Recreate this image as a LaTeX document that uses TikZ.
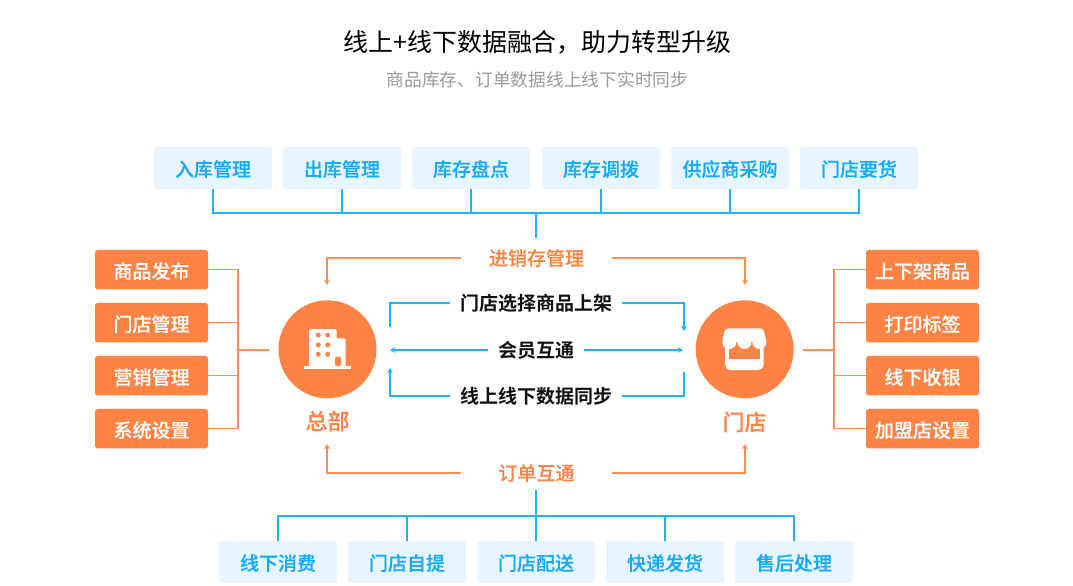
\documentclass[tikz,border=0pt]{standalone}
\usepackage{fontspec}
\setmainfont{Noto Sans CJK SC}
\newfontfamily\medfont[FakeBold=0.2]{Noto Sans CJK SC Medium}
\newfontfamily\boldfont{Noto Sans CJK SC Bold}
\usetikzlibrary{arrows.meta}
\definecolor{bluel}{HTML}{1DB3FF}
\definecolor{bluet}{HTML}{14ABFF}
\definecolor{bluebg}{HTML}{E6F5FF}
\definecolor{orng}{HTML}{FF8344}
\definecolor{orngl}{HTML}{FF8E55}
\definecolor{grayt}{HTML}{999999}
\definecolor{dark}{HTML}{111111}
\tikzset{
  bluebox/.style={fill=bluebg,rounded corners=2pt,minimum width=88.5pt,minimum height=31.5pt,inner sep=0pt,text=bluet,text height=12.5pt,text depth=0pt,font=\medfont\fontsize{14.25pt}{16pt}\selectfont},
  orngbox/.style={fill=orng,rounded corners=2pt,minimum width=84.75pt,minimum height=29.6pt,inner sep=0pt,text=white,text height=13pt,text depth=0pt,font=\medfont\fontsize{14.25pt}{16pt}\selectfont},
  blueline/.style={draw=bluel,line width=1.4pt},
  orngline/.style={draw=orngl,line width=1pt},
  tip/.style={-{Stealth[length=4pt,width=4.5pt]}},
  orlabel/.style={inner sep=0pt,minimum height=15pt,text=orng,font=\medfont\fontsize{14.25pt}{16pt}\selectfont},
  darklabel/.style={inner sep=0pt,minimum height=15pt,text=dark,font=\boldfont\fontsize{14.25pt}{16pt}\selectfont},
  hub/.style={circle,fill=orng,minimum size=73.5pt,inner sep=0pt},
  hublabel/.style={inner sep=0pt,text=orng,font=\medfont\fontsize{16.5pt}{18pt}\selectfont}
}
\begin{document}
\begin{tikzpicture}[x=0.75pt,y=-0.75pt]
\useasboundingbox (0,0) rectangle (1073,585);
\node[inner sep=0pt,font=\fontsize{18.7pt}{22pt}\selectfont,text=black] (title) at (537.5,42) {线上+线下数据融合，助力转型升级};
\node[inner sep=0pt,font=\fontsize{13.3pt}{16pt}\selectfont,text=grayt] (sub) at (537.5,80) {商品库存、订单数据线上线下实时同步};
% top boxes
\node[bluebox] (t1) at (213,168) {入库管理};
\node[bluebox] (t2) at (342,168) {出库管理};
\node[bluebox] (t3) at (471,168) {库存盘点};
\node[bluebox] (t4) at (601,168) {库存调拨};
\node[bluebox] (t5) at (730,168) {供应商采购};
\node[bluebox] (t6) at (859,168) {门店要货};
% bottom boxes
\node[bluebox] (b1) at (278,562) {线下消费};
\node[bluebox] (b2) at (407,562) {门店自提};
\node[bluebox] (b3) at (536,562) {门店配送};
\node[bluebox] (b4) at (665,562) {快递发货};
\node[bluebox] (b5) at (794,562) {售后处理};
% left boxes
\node[orngbox] (l1) at (151.5,269.7) {商品发布};
\node[orngbox] (l2) at (151.5,322.7) {门店管理};
\node[orngbox] (l3) at (151.5,375.7) {营销管理};
\node[orngbox] (l4) at (151.5,428.7) {系统设置};
% right boxes
\node[orngbox] (r1) at (922.5,269.7) {上下架商品};
\node[orngbox] (r2) at (922.5,322.7) {打印标签};
\node[orngbox] (r3) at (922.5,375.7) {线下收银};
\node[orngbox] (r4) at (922.5,428.7) {加盟店设置};
% hubs
\node[hub] (hq) at (327.5,349.3) {};
\node[hub] (store) at (744.7,349.3) {};
\node[hublabel] (hqlab) at (327.5,421) {总部};
\node[hublabel] (stlab) at (744.5,422) {门店};
% labels
\node[orlabel,minimum width=113.25pt] (jxc) at (536.5,258) {进销存管理};
\node[orlabel,minimum width=113.25pt] (dd) at (536.5,473) {订单互通};
\node[darklabel,minimum width=129pt] (sel) at (536,303) {门店选择商品上架};
\node[darklabel,minimum width=72pt] (hy) at (536,350) {会员互通};
\node[darklabel,minimum width=129pt] (syn) at (536,396) {线上线下数据同步};
% free ends
\coordinate (topbus) at (536,213);
\coordinate (topend) at (536,238);
\coordinate (botbus) at (536,516);
\coordinate (botend) at (536,490);
\coordinate (lbus) at (238,350);
\coordinate (lend) at (269,350);
\coordinate (rbus) at (834,350);
\coordinate (rend) at (803,350);
\coordinate (hqtop) at (327,285);
\coordinate (hqbot) at (327,444);
\coordinate (sttop) at (745,285);
\coordinate (stbot) at (745,444);
\coordinate (a1) at (390,327);
\coordinate (a2) at (684,331);
\coordinate (a3) at (390,350);
\coordinate (a4) at (683,350);
\coordinate (a5) at (390,368);
\coordinate (a6) at (684,372);
% top tree
\foreach \n in {t1,t2,t3,t4,t5,t6} \draw[blueline] (\n.south) -- (\n.south |- topbus);
\draw[blueline,line cap=rect] (t1.south |- topbus) -- (t6.south |- topbus);
\draw[blueline] (topbus) -- (topend);
% bottom tree
\foreach \n in {b1,b2,b3,b4,b5} \draw[blueline] (\n.north) -- (\n.north |- botbus);
\draw[blueline,line cap=rect] (b1.north |- botbus) -- (b5.north |- botbus);
\draw[blueline] (botbus) -- (botend);
% left tree
\foreach \n in {l1,l2,l3,l4} \draw[orngline] (\n.east) -- (\n.east -| lbus);
\draw[orngline,line cap=rect] (l1.east -| lbus) -- (l4.east -| lbus);
\draw[orngline] (lbus) -- (lend);
% right tree
\foreach \n in {r1,r2,r3,r4} \draw[orngline] (\n.west) -- (\n.west -| rbus);
\draw[orngline,line cap=rect] (r1.west -| rbus) -- (r4.west -| rbus);
\draw[orngline] (rbus) -- (rend);
% orange arrows
\draw[orngline,tip] (jxc.west) -| (hqtop);
\draw[orngline,tip] (jxc.east) -| (sttop);
\draw[orngline,tip] (dd.west) -| (hqbot);
\draw[orngline,tip] (dd.east) -| (stbot);
% blue arrows
\draw[blueline] (sel.west) -| (a1);
\draw[blueline,tip] (sel.east) -| (a2);
\draw[blueline,tip] (hy.west) -- (a3);
\draw[blueline,tip] (hy.east) -- (a4);
\draw[blueline,tip] (syn.west) -| (a5);
\draw[blueline] (syn.east) -| (a6);
% building icon
\fill[white] (304.3,365.7) rectangle (351,368.5);
\fill[white,rounded corners=1.5pt] (309,367) -- (309,329) -- (336.7,329) -- (336.7,367) -- cycle;
\fill[white,rounded corners=1.5pt] (333,367) -- (333,338.3) -- (345.7,338.3) -- (345.7,367) -- cycle;
\foreach \px in {318.3,327.7} \foreach \py in {335,345,354.3} \fill[orng] (\px,\py) circle[radius=2.5];
\fill[orng,rounded corners=1.5pt] (335,366) -- (335,356.7) -- (341,356.7) -- (341,366) -- cycle;
% store icon
\fill[white,rounded corners=4pt] (725,340) rectangle (763.6,370);
\fill[white,rounded corners=2.5pt] (725.3,328.3) -- (763.3,328.3) -- (766.4,342) -- (722,342) -- cycle;
\fill[orng] (728.5,341.5) rectangle (760.3,358.5);
\foreach \px in {729.4,744.4,759.4} \fill[white] (\px,342) circle[radius=7];
\end{tikzpicture}
\end{document}
